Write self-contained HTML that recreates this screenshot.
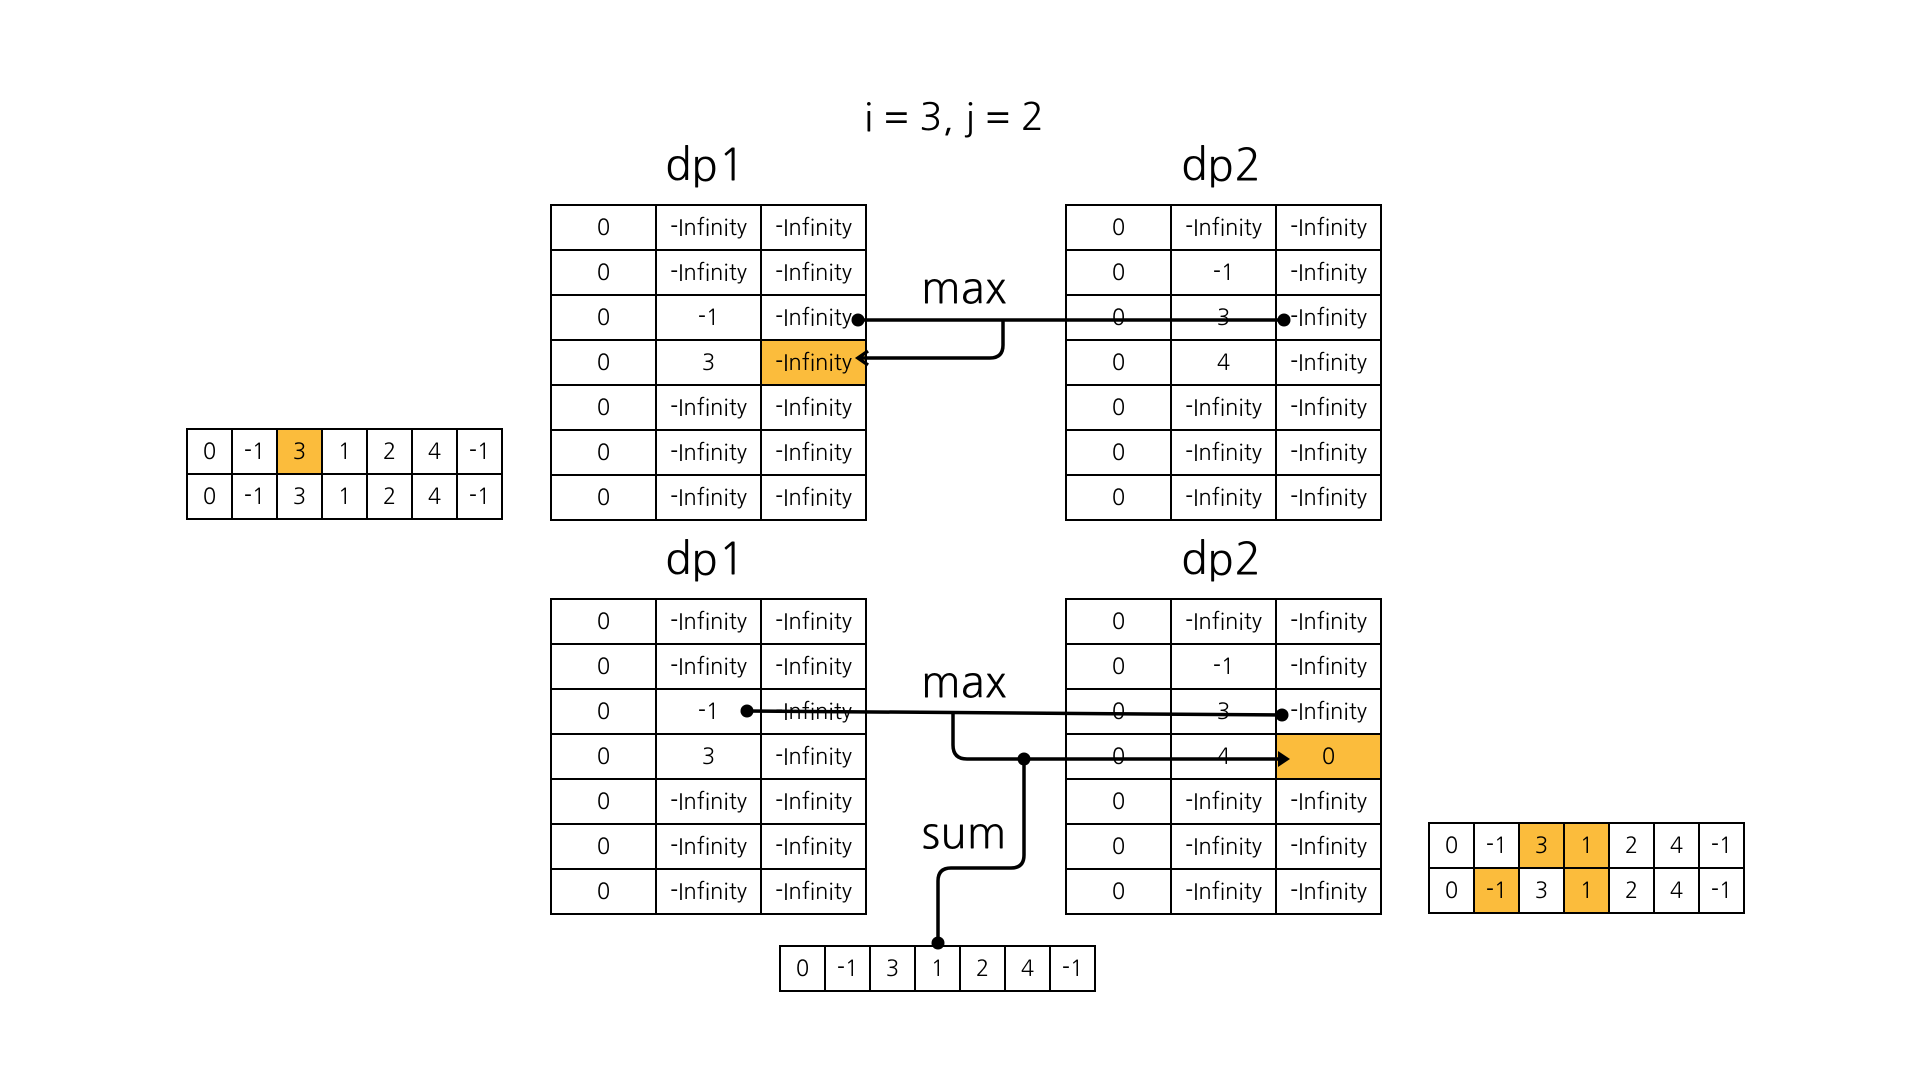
<!DOCTYPE html>
<html><head><meta charset="utf-8"><style>
body{margin:0;width:1920px;height:1080px;background:#fff;position:relative;overflow:hidden;font-family:"NanumGothic","Liberation Sans",sans-serif;}
table{position:absolute;border-collapse:collapse;table-layout:fixed;}
td{border:2px solid #000;text-align:center;font-size:22px;padding:0;color:#000;background:#fff;}
.g td{width:103px;height:43px;}
.a td{width:43px;height:43px;}
td.h{background:#fbbc3c;}
.lb{position:absolute;transform:translate(-50%,-50%);font-size:44px;white-space:nowrap;}
svg{position:absolute;left:0;top:0;}
</style></head><body>
<div class="lb" style="left:954px;top:117px;font-size:38px">i = 3, j = 2</div>
<div class="lb" style="left:705px;top:166px">dp1</div>
<div class="lb" style="left:1221px;top:166px">dp2</div>
<div class="lb" style="left:705px;top:560px">dp1</div>
<div class="lb" style="left:1221px;top:560px">dp2</div>
<div class="lb" style="left:964px;top:289px">max</div>
<div class="lb" style="left:964px;top:683px">max</div>
<div class="lb" style="left:964px;top:834px">sum</div>

<table class="g" style="left:550px;top:204px">
<tr><td>0</td><td>-Infinity</td><td>-Infinity</td></tr>
<tr><td>0</td><td>-Infinity</td><td>-Infinity</td></tr>
<tr><td>0</td><td>-1</td><td>-Infinity</td></tr>
<tr><td>0</td><td>3</td><td class="h">-Infinity</td></tr>
<tr><td>0</td><td>-Infinity</td><td>-Infinity</td></tr>
<tr><td>0</td><td>-Infinity</td><td>-Infinity</td></tr>
<tr><td>0</td><td>-Infinity</td><td>-Infinity</td></tr>
</table>
<table class="g" style="left:1065px;top:204px">
<tr><td>0</td><td>-Infinity</td><td>-Infinity</td></tr>
<tr><td>0</td><td>-1</td><td>-Infinity</td></tr>
<tr><td>0</td><td>3</td><td>-Infinity</td></tr>
<tr><td>0</td><td>4</td><td>-Infinity</td></tr>
<tr><td>0</td><td>-Infinity</td><td>-Infinity</td></tr>
<tr><td>0</td><td>-Infinity</td><td>-Infinity</td></tr>
<tr><td>0</td><td>-Infinity</td><td>-Infinity</td></tr>
</table>
<table class="g" style="left:550px;top:598px">
<tr><td>0</td><td>-Infinity</td><td>-Infinity</td></tr>
<tr><td>0</td><td>-Infinity</td><td>-Infinity</td></tr>
<tr><td>0</td><td>-1</td><td>-Infinity</td></tr>
<tr><td>0</td><td>3</td><td>-Infinity</td></tr>
<tr><td>0</td><td>-Infinity</td><td>-Infinity</td></tr>
<tr><td>0</td><td>-Infinity</td><td>-Infinity</td></tr>
<tr><td>0</td><td>-Infinity</td><td>-Infinity</td></tr>
</table>
<table class="g" style="left:1065px;top:598px">
<tr><td>0</td><td>-Infinity</td><td>-Infinity</td></tr>
<tr><td>0</td><td>-1</td><td>-Infinity</td></tr>
<tr><td>0</td><td>3</td><td>-Infinity</td></tr>
<tr><td>0</td><td>4</td><td class="h">0</td></tr>
<tr><td>0</td><td>-Infinity</td><td>-Infinity</td></tr>
<tr><td>0</td><td>-Infinity</td><td>-Infinity</td></tr>
<tr><td>0</td><td>-Infinity</td><td>-Infinity</td></tr>
</table>
<table class="a" style="left:186px;top:428px">
<tr><td>0</td><td>-1</td><td class="h">3</td><td>1</td><td>2</td><td>4</td><td>-1</td></tr>
<tr><td>0</td><td>-1</td><td>3</td><td>1</td><td>2</td><td>4</td><td>-1</td></tr>
</table>
<table class="a" style="left:1428px;top:822px">
<tr><td>0</td><td>-1</td><td class="h">3</td><td class="h">1</td><td>2</td><td>4</td><td>-1</td></tr>
<tr><td>0</td><td class="h">-1</td><td>3</td><td class="h">1</td><td>2</td><td>4</td><td>-1</td></tr>
</table>
<table class="a" style="left:779px;top:945px">
<tr><td>0</td><td>-1</td><td>3</td><td>1</td><td>2</td><td>4</td><td>-1</td></tr>
</table>

<svg width="1920" height="1080" viewBox="0 0 1920 1080">
<g fill="none" stroke="#000" stroke-width="3.5">
<path d="M858 320 L1284 320"/>
<path d="M1003 320 L1003 345 Q1003 358 990 358 L860 358"/>
<path d="M868 351 L858 358 L868 365"/>
<path d="M747 711 L1282 715"/>
<path d="M953 713 L953 745 Q953 759 967 759 L1280 759"/>
<path d="M1024 759 L1024 855 Q1024 868 1011 868 L951 868 Q938 868 938 881 L938 943"/>
</g>
<g fill="#000">
<circle cx="858" cy="320" r="6.5"/>
<circle cx="1284" cy="320" r="6.5"/>
<circle cx="747" cy="711" r="6.5"/>
<circle cx="1282" cy="715" r="6.5"/>
<circle cx="1024" cy="759" r="6.5"/>
<circle cx="938" cy="943" r="6.5"/>
<path d="M1290 759 L1278 751 L1278 767 Z"/>
</g>
</svg>
</body></html>
